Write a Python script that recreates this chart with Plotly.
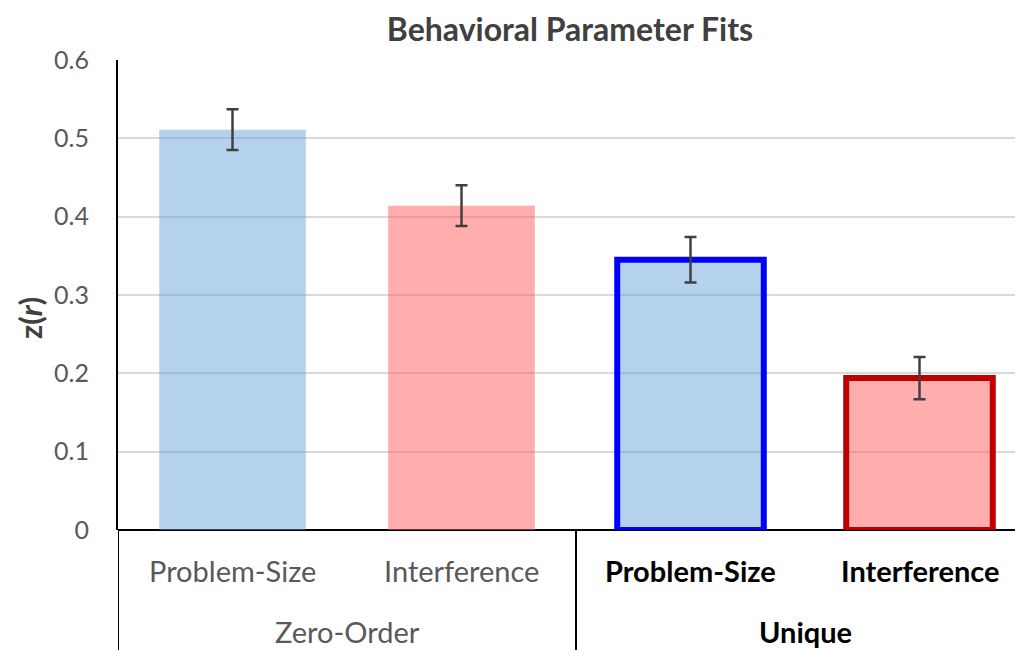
import plotly.graph_objects as go

categories = ["Problem-Size", "Interference", "Problem-Size", "Interference"]
groups = ["Zero-Order", "Unique"]
values = [0.511, 0.414, 0.345, 0.194]
errors = [0.026, 0.026, 0.029, 0.027]
fill_colors = ["rgba(91,155,213,0.45)", "rgba(255,92,92,0.5)",
               "rgba(91,155,213,0.45)", "rgba(255,92,92,0.5)"]
line_colors = ["rgba(0,0,0,0)", "rgba(0,0,0,0)", "#0000FF", "#C00000"]
line_widths = [0, 0, 6, 6]
y_ticks = [0, 0.1, 0.2, 0.3, 0.4, 0.5, 0.6]
y_ticktext = ["0", "0.1", "0.2", "0.3", "0.4", "0.5", "0.6"]

FONT = "Lato"
xpos = list(range(len(categories)))

# page has an 8px body margin; compensate so the plot area lands where the reference has it
OFF = 8
ML, MT = 118 - OFF, 60 - OFF
PLOT_H = 470
MB = 650 - MT - PLOT_H
PLOT_W = 1023 - ML

fig = go.Figure()
fig.add_trace(go.Bar(
    x=xpos, y=values, width=0.64,
    marker=dict(color=fill_colors, line=dict(color=line_colors, width=line_widths)),
    error_y=dict(type="data", array=errors, color="#404040", thickness=2.5, width=6),
    showlegend=False,
))

def py(page_y):
    # page y pixel -> paper coordinate
    return (530 - page_y) / PLOT_H

annotations = []
for i, c in enumerate(categories):
    bold = i >= 2
    annotations.append(dict(
        x=i, y=py(570), xref="x", yref="paper", showarrow=False,
        text=f"<b>{c}</b>" if bold else c, yanchor="middle",
        font=dict(family=FONT, size=29, color="#000000" if bold else "#595959"),
    ))
for gi, g in enumerate(groups):
    bold = gi == 1
    annotations.append(dict(
        x=0.5 + 2 * gi, y=py(631), xref="x", yref="paper", showarrow=False,
        text=f"<b>{g}</b>" if bold else g, yanchor="middle",
        font=dict(family=FONT, size=29, color="#000000" if bold else "#595959"),
    ))
annotations.append(dict(
    x=(30 - 118) / PLOT_W, y=py(318), xref="paper", yref="paper", showarrow=False,
    text="<b>z(<i>r</i>)</b>", textangle=-90, xanchor="center", yanchor="middle",
    font=dict(family=FONT, size=31, color="#404040"),
))

shapes = [
    dict(type="line", xref="x", yref="paper", x0=-0.5, x1=-0.5, y0=0, y1=-0.3,
         line=dict(color="#000000", width=2)),
    dict(type="line", xref="x", yref="paper", x0=1.5, x1=1.5, y0=0, y1=-0.3,
         line=dict(color="#000000", width=2)),
]

fig.update_layout(
    width=1023, height=650,
    margin=dict(l=ML, r=0, t=MT, b=MB),
    paper_bgcolor="white", plot_bgcolor="white",
    title=dict(text="<b>Behavioral Parameter Fits</b>", x=(570 - 118) / PLOT_W, xref="paper",
               xanchor="center",
               y=1 - (30 - OFF) / 650, yref="container", yanchor="middle",
               font=dict(family=FONT, size=32, color="#404040")),
    xaxis=dict(range=[-0.5, -0.5 + PLOT_W / 229.0], showticklabels=False, showgrid=False,
               zeroline=False, showline=False),
    yaxis=dict(range=[0, 0.6], tickvals=y_ticks, ticktext=y_ticktext,
               showgrid=True, gridcolor="#D9D9D9", gridwidth=1.5,
               zeroline=True, zerolinecolor="#000000", zerolinewidth=2,
               showline=True, linecolor="#000000", linewidth=2,
               ticks="", ticklabelstandoff=22,
               tickfont=dict(family=FONT, size=25, color="#595959")),
    annotations=annotations, shapes=shapes,
)

fig.write_html("out.html")
